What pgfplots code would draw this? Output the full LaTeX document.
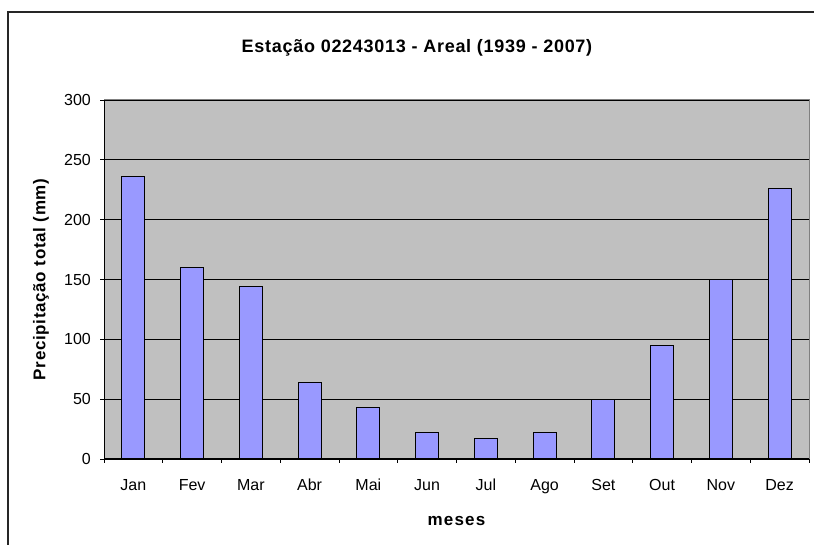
\documentclass[border=0pt]{standalone}
\usepackage{pgfplots}
\pgfplotsset{compat=1.18}
\usepackage{fontspec}
\setmainfont{Liberation Sans}
\newfontfamily\widebold[LetterSpace=4]{Liberation Sans}
\newfontfamily\widerbold[LetterSpace=7]{Liberation Sans}
\definecolor{plotbg}{HTML}{C0C0C0}
\definecolor{barfill}{HTML}{9999FF}
\definecolor{plotframe}{HTML}{808080}

\begin{document}
\begin{tikzpicture}
\path[use as bounding box] (0,0) rectangle (814bp,545bp);
% outer chart frame (only left and top edges are in view)
\draw[line width=1.3bp, black!85] (8bp,0) -- (8bp,533bp) -- (814bp,533bp);
\node[anchor=base, font=\widebold\bfseries\fontsize{18bp}{22bp}\selectfont]
  at (417bp,492.7bp) {Estação 02243013 - Areal (1939 - 2007)};
\begin{axis}[
  at={(104bp,86bp)}, anchor=south west,
  width=705bp, height=359bp, scale only axis,
  ybar, bar width=23bp,
  xmin=-0.5, xmax=11.5, ymin=0, ymax=300,
  xtick={0,...,11},
  xticklabels={Jan,Fev,Mar,Abr,Mai,Jun,Jul,Ago,Set,Out,Nov,Dez},
  minor xtick={-0.5,0.5,...,11.5},
  ytick={0,50,...,300},
  minor ytick={0,50,...,300},
  tick pos=left,
  tick align=outside,
  major tick length=0pt, minor tick length=4bp,
  tick style={black, line width=0.8bp},
  ymajorgrids,
  grid style={black, line width=0.8bp},
  axis background/.style={fill=plotbg},
  axis line style={plotframe, line width=1bp},
  /pgf/number format/assume math mode=true,
  tick label style={font=\fontsize{16bp}{19bp}\selectfont},
  xticklabel style={inner sep=0pt, anchor=north, yshift=-20bp},
  yticklabel style={inner sep=0pt, anchor=east, xshift=-13bp},
  every axis x label/.style={at={(axis description cs:0.5,-0.1727)}, anchor=center,
    font=\widerbold\bfseries\fontsize{17bp}{20bp}\selectfont},
  every axis y label/.style={at={(axis description cs:-0.0894,0.5)}, rotate=90, anchor=center,
    font=\widebold\bfseries\fontsize{17bp}{20bp}\selectfont},
  xlabel={meses},
  ylabel={Precipitação total (mm)},
]
\addplot[fill=barfill, draw=black, line width=1bp] coordinates {
  (0,236) (1,160) (2,144) (3,64) (4,43) (5,22)
  (6,17) (7,22) (8,50) (9,95) (10,150) (11,226)
};
\draw[black, line width=1bp] (rel axis cs:0,1) -- (rel axis cs:0,0) -- (rel axis cs:1,0);
\end{axis}
\end{tikzpicture}
\end{document}
